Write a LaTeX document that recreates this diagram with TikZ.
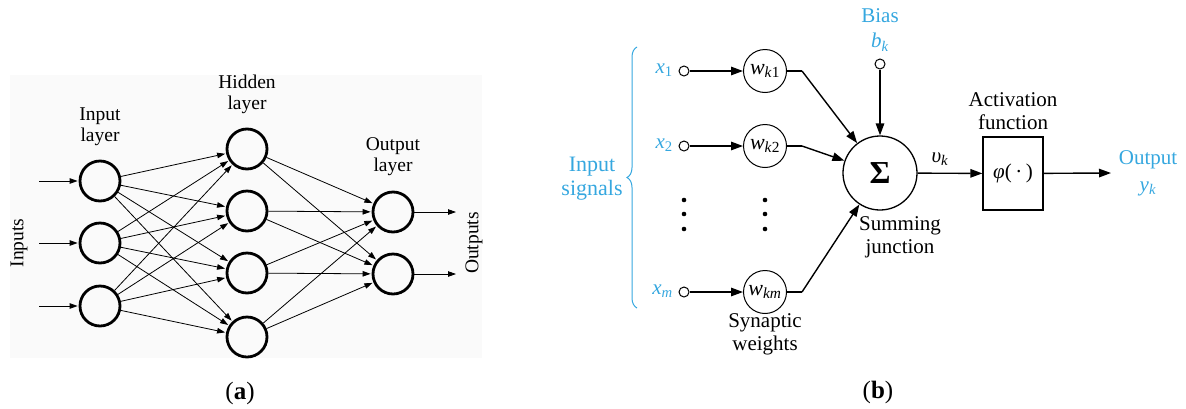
\documentclass[tikz,border=0pt]{standalone}
\usepackage{fontspec}
\setmainfont{Liberation Serif}
\usetikzlibrary{arrows.meta,decorations.pathreplacing}
\definecolor{sigblue}{HTML}{35A7DF}
\begin{document}
\begin{tikzpicture}[x=1pt,y=-1pt,
  neuron/.style={circle,draw,line width=2.8pt,minimum size=40pt,inner sep=0pt},
  link/.style={line width=0.8pt,-{Triangle[length=8pt,width=5.5pt]},shorten >=1pt},
  lbl/.style={font=\fontsize{19.5}{21}\selectfont,align=center},
  wnode/.style={circle,draw,line width=1pt,minimum size=43pt,inner sep=0pt,font=\fontsize{22}{22}\selectfont},
  port/.style={circle,draw,line width=1pt,minimum size=10pt,inner sep=0pt},
  sarrow/.style={line width=1.4pt,-{Triangle[length=12pt,width=8.5pt]}},
  sline/.style={line width=1.4pt},
  rlbl/.style={font=\fontsize{21}{23}\selectfont,align=center},
  blbl/.style={rlbl,text=sigblue},
  captxt/.style={font=\fontsize{25}{25}\selectfont}
]
\useasboundingbox (0,0) rectangle (1186,408);
% ---------------- panel (a)
\fill[black!2] (10,75) rectangle (482,358);
\node[neuron] (i1) at (100,181) {};
\node[neuron] (i2) at (100,243) {};
\node[neuron] (i3) at (100,306) {};
\node[neuron] (h1) at (247,149) {};
\node[neuron] (h2) at (247,211) {};
\node[neuron] (h3) at (247,273) {};
\node[neuron] (h4) at (247,337) {};
\node[neuron] (o1) at (393,212) {};
\node[neuron] (o2) at (393,274) {};
\coordinate (s1) at (39,181);
\coordinate (s2) at (39,243);
\coordinate (s3) at (39,306);
\coordinate (e1) at (457,212);
\coordinate (e2) at (457,274);
\foreach \k in {1,2,3} \draw[link] (s\k) -- (i\k);
\foreach \i in {1,2,3} \foreach \h in {1,2,3,4} \draw[link] (i\i) -- (h\h);
\foreach \h in {1,2,3,4} \foreach \o in {1,2} \draw[link] (h\h) -- (o\o);
\foreach \k in {1,2} \draw[link] (o\k) -- (e\k);
\node[lbl] (lin) at (100,127) {Input\\layer};
\node[lbl] (lhid) at (247,94) {Hidden\\layer};
\node[lbl] (lout) at (393,157) {Output\\layer};
\node[lbl,rotate=90] (linp) at (19,243) {Inputs};
\node[lbl,rotate=90] (loutp) at (474,243) {Outputs};
\node[captxt] (capa) at (240,393) {(\textbf{a})};
% ---------------- panel (b)
\draw[sigblue,line width=1pt,decorate,decoration={brace,amplitude=10pt}] (637,308) -- (637,47);
\node[blbl,font=\fontsize{22}{24}\selectfont] (insig) at (592,179) {Input\\signals};
\node[port] (c1) at (684,71) {};
\node[port] (c2) at (684,146) {};
\node[port] (cm) at (684,292) {};
\node[blbl,anchor=east,inner sep=2pt] (x1) at (675,70) {\textit{x}\textsubscript{1}};
\node[blbl,anchor=east,inner sep=2pt] (x2) at (675,145) {\textit{x}\textsubscript{2}};
\node[blbl,anchor=east,inner sep=2pt] (xm) at (675,291) {\textit{x}\textsubscript{\textit{m}}};
\node[wnode] (w1) at (765,71) {\textit{w}\textsubscript{\textit{k}1}};
\node[wnode] (w2) at (765,146) {\textit{w}\textsubscript{\textit{k}2}};
\node[wnode] (wm) at (765,292) {\textit{w}\textsubscript{\textit{km}}};
\foreach \k in {1,2,m} \draw[sarrow] (c\k) -- (w\k);
\foreach \x in {684,765} \foreach \y in {200,214,229} \fill (\x,\y) circle (2.3);
\node[circle,draw,line width=1.3pt,minimum size=74pt,inner sep=0pt,font=\fontsize{32}{32}\selectfont\bfseries] (sum) at (880,173) {Σ};
\coordinate (k1) at (802,71);
\coordinate (k2) at (802,146);
\coordinate (km) at (802,292);
\foreach \k in {1,2,m} {\draw[sline] (w\k) -- (k\k); \draw[sarrow] (k\k) -- (sum);}
\node[port] (bias) at (880,64) {};
\draw[sarrow] (bias) -- (sum);
\node[blbl,font=\fontsize{21}{25}\selectfont] (lbias) at (880,30) {Bias\\\textit{b}\textsubscript{\textit{k}}};
\node[draw,line width=1.3pt,minimum width=60pt,minimum height=73pt,inner sep=0pt,font=\fontsize{21}{21}\selectfont] (phi) at (1013,173.5) {\textit{φ}(\,·\,)};
\draw[sarrow] (sum) -- (phi);
\node[rlbl] (vk) at (940,159) {\textit{υ}\textsubscript{\textit{k}}};
\node[rlbl] (lact) at (1013,111) {Activation\\function};
\coordinate (out) at (1111,173);
\draw[sarrow] (phi) -- (out);
\node[blbl,font=\fontsize{21}{27}\selectfont] (lout2) at (1148,173) {Output\\\textit{y}\textsubscript{\textit{k}}};
\node[rlbl] (lsum) at (900,237) {Summing\\junction};
\node[rlbl] (lsyn) at (765,334) {Synaptic\\weights};
\node[captxt] (capb) at (878,392) {(\textbf{b})};
\end{tikzpicture}
\end{document}
